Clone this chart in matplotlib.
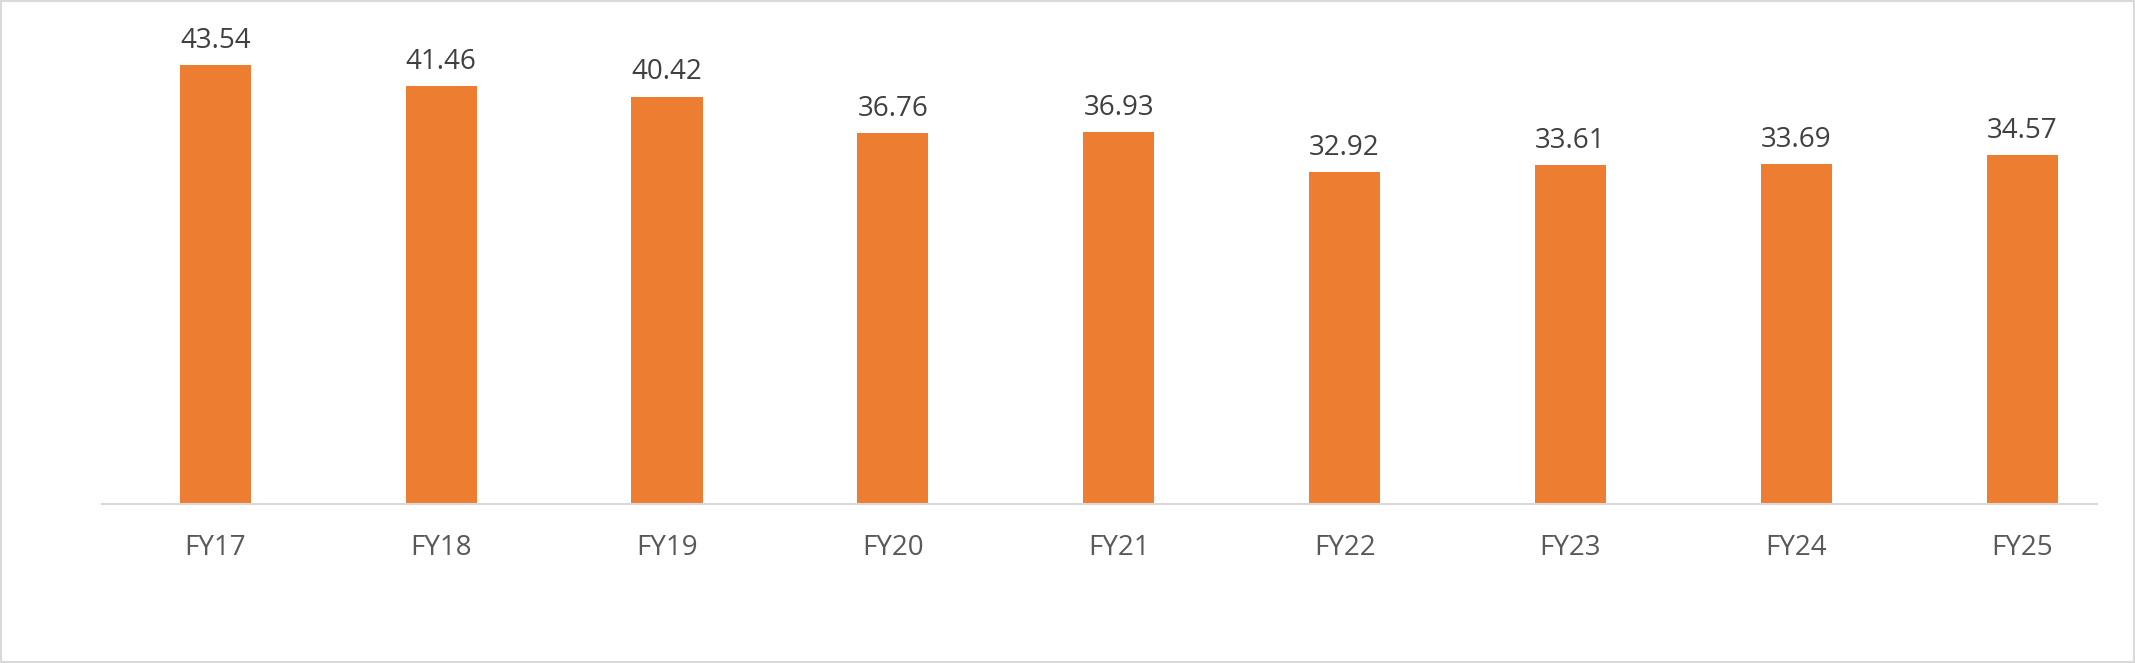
import matplotlib
matplotlib.use("Agg")
import matplotlib.pyplot as plt
from matplotlib.patches import Rectangle

categories = ["FY17","FY18","FY19","FY20","FY21","FY22","FY23","FY24","FY25"]
values = [43.54, 41.46, 40.42, 36.76, 36.93, 32.92, 33.61, 33.69, 34.57]

plt.rcParams['font.family'] = ['Open Sans', 'DejaVu Sans']
fig = plt.figure(figsize=(21.35, 6.63), dpi=100)
fig.patches.append(Rectangle((0.0005, 0.001), 0.999, 0.997, transform=fig.transFigure,
                             fill=False, edgecolor='#D9D9D9', linewidth=1.5))
ax = fig.add_axes([0.048, 0.24, 0.952, 0.76])
x = range(len(categories))
bars = ax.bar(x, values, width=0.315, color='#ED7D31')
for xi, v in zip(x, values):
    ax.text(xi, v + 1.0, f"{v:.2f}", ha='center', va='bottom', fontsize=20, color='#404040')
ax.set_xlim(-0.5, 8.5)
ax.set_ylim(0, 50)
ax.set_xticks(list(x))
ax.set_xticklabels(categories, fontsize=20, color='#595959')
ax.tick_params(axis='x', length=0, pad=22)
ax.set_yticks([])
for s in ['top', 'left', 'right']:
    ax.spines[s].set_visible(False)
ax.spines['bottom'].set_color('#D9D9D9')
ax.spines['bottom'].set_linewidth(1.5)
ax.spines['bottom'].set_bounds(-0.5, 8.33)
fig.savefig("out.png", dpi=100)
